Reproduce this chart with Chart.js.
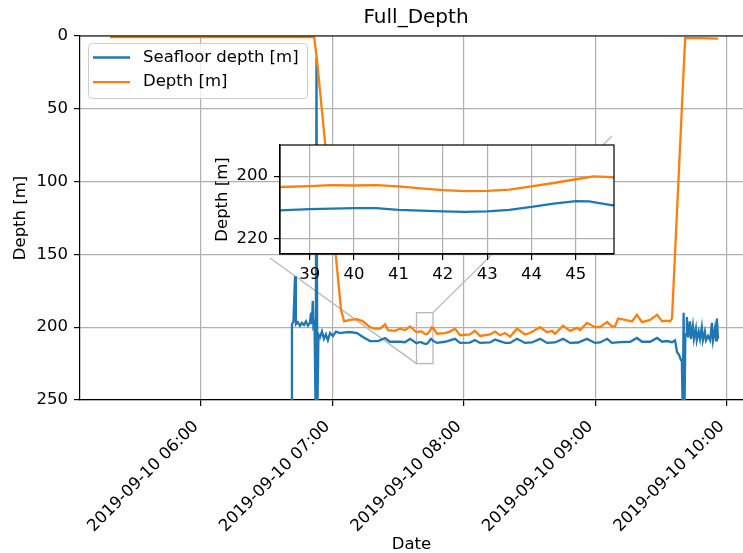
<!DOCTYPE html>
<html>
<head>
<meta charset="utf-8">
<script src="https://cdn.jsdelivr.net/npm/chart.js@4.4.1/dist/chart.umd.min.js"></script>
<style>
  html, body { margin: 0; padding: 0; background: #fff; overflow: hidden; }
  #wrap { position: relative; width: 743px; height: 553px; }
  #fullDepth { position: absolute; left: 0; top: 0; }
  #insetDepth { position: absolute; left: 205px; top: 140px; }
</style>
</head>
<body>
<div id="wrap">
  <canvas id="fullDepth" width="743" height="553"></canvas>
  <canvas id="insetDepth" width="415" height="150"></canvas>
</div>
<script>
// time = minutes after midnight on 2019-09-10
var depthTime = [318.5, 359.5, 401.5, 411.6, 412.9, 416.6, 420.2, 423.9, 425.3, 428.0, 431.2, 433.9, 437.1, 439.4, 441.7, 444.0, 445.3, 448.5, 450.8, 453.1, 455.4,
  458.3, 459.0, 459.5, 460.0, 460.5, 461.0, 461.5, 462.0, 462.5, 463.0, 463.5, 464.0, 464.5, 465.0, 465.4, 465.8,
  467.7, 471.3, 473.6, 475.9, 478.2, 482.7, 485.0, 487.3, 491.9, 494.2, 496.4, 498.7, 501.0, 504.2, 507.8, 510.1, 514.7, 517.9, 520.2, 521.5,
  525.2, 528.4, 531.6, 532.9, 536.1, 539.8, 542.1, 545.3, 547.5, 548.9, 550.3, 553.5, 556.7, 558.9, 561.2, 564.9, 568.1, 570.4, 572.6, 574.0,
  574.9, 580.9, 587.7, 595.9];
var depthValues = [0.8, 0.8, 0.8, 0.5, 16, 73, 130, 188, 196, 195, 194.5, 196, 200, 201, 201, 198, 202, 202.5, 201, 202, 199.5,
  203.5, 203.2, 202.9, 203.0, 202.9, 203.3, 203.9, 204.5, 204.8, 204.7, 204.3, 203.3, 202.2, 201.0, 200.1, 200.3,
  204.5, 204, 203, 201, 205.5, 205, 202.5, 206, 205, 203, 205.5, 204, 206.5, 201, 205, 204, 200, 203.5, 202.5, 204.5,
  199, 202.5, 200.5, 202, 197, 200, 200, 196.5, 199.5, 199.5, 194, 195, 196, 191.5, 196.5, 195, 191.5, 196, 195.5, 196,
  194, 1.5, 1.5, 1.8];

var seafloorTime = [401.3, 401.5, 402.2, 402.9, 403.3, 404.2, 405.2, 406.1, 407.0, 407.9, 408.8, 409.7, 410.2, 410.6, 411.0, 411.3, 411.8,
  412.3, 412.7, 413.1, 413.6, 414.3, 415.2, 416.1, 417.0, 417.9, 418.9, 420.2, 421.6, 423.4, 425.7, 428.0, 431.2, 433.9, 437.1, 440.8,
  444.0, 446.2, 450.8, 453.1, 455.4,
  458.3, 459.0, 460.0, 460.5, 461.0, 462.0, 462.5, 463.0, 463.5, 464.0, 464.5, 465.0, 465.3, 465.8,
  467.7, 471.3, 475.9, 478.2, 482.7, 485.0, 487.3, 491.9, 494.2, 498.7, 501.0, 504.2, 507.8, 511.0, 514.7, 517.9, 521.5, 525.2, 528.4,
  532.1, 536.1, 539.8, 542.1, 545.3, 547.5, 551.2, 555.8, 558.9, 561.2, 564.9, 568.1, 570.4, 572.6, 574.9, 576.3, 577.2, 578.1, 579.0,
  579.4, 579.8, 580.2, 580.6, 581.0, 581.3, 581.7, 582.2, 583.1, 583.5, 584.4, 584.9, 585.8, 586.2, 587.1, 587.7, 588.5, 589.0, 589.9,
  590.4, 591.3, 592.3, 593.1, 593.6, 594.5, 595.0, 595.4, 595.9];
var seafloorValues = [260, 198, 196, 165, 198, 196.5, 199, 197, 198.5, 196, 199, 197, 190, 198, 182, 199, 197,
  260, 15, 260, 205, 207, 203, 208, 205, 209, 204, 206, 203, 204, 203.5, 203.3, 204, 206.7, 209.5, 209.5,
  207.4, 210, 210, 210.3, 208,
  211.0, 210.6, 210.3, 210.3, 210.8, 211.3, 211.5, 211.3, 210.8, 209.9, 208.8, 208.0, 208.1, 209.3,
  210.8, 210, 208, 210.8, 210.6, 208.8, 210.8, 210.5, 208.5, 210.8, 210.8, 208, 210.8, 210.5, 208, 210.8, 210.5, 208, 210.8,
  210.5, 208, 210.8, 210.5, 208, 210.8, 210.3, 210, 207.4, 210, 210, 207.4, 210, 209.5, 210.3, 209, 217, 219, 222.5,
  223, 260, 190, 260, 205, 205, 193, 207, 196, 208, 199, 208, 201, 209, 203, 208, 200, 209, 203,
  209, 206, 209, 197, 209, 201, 209, 194, 208];

var xTickMinutes = [360, 420, 480, 540, 600];
var xTickLabels = ["2019-09-10 06:00", "2019-09-10 07:00", "2019-09-10 08:00", "2019-09-10 09:00", "2019-09-10 10:00"];
var xRange = [304.8, 607.3];
var yTicks = [0, 50, 100, 150, 200, 250];

// zoomed window: 07:38.3 - 07:45.9, 190 - 225 m
var insetTickMinutes = [39, 40, 41, 42, 43, 44, 45];
var insetYTicks = [200, 220];
var zoomMinutes = [458.33, 465.86];
var zoomDepth = [190, 225];

Chart.defaults.font.family = "'DejaVu Sans', sans-serif";
Chart.defaults.font.size = 16.5;
Chart.defaults.color = "#000";

function pts(t, v) {
  return t.map(function (x, i) { return { x: x, y: v[i] }; });
}

function makeDatasets() {
  return [
    { label: "Seafloor depth [m]", data: pts(seafloorTime, seafloorValues), borderColor: "#1f77b4", borderWidth: 2.3, pointRadius: 0, tension: 0, order: 1 },
    { label: "Depth [m]", data: pts(depthTime, depthValues), borderColor: "#ff7f0e", borderWidth: 2.3, pointRadius: 0, tension: 0, order: 0 }
  ];
}

var gridStyle = { color: "#b0b0b0", lineWidth: 1.2, tickColor: "#000", tickLength: 6 };

var mainDecor = {
  id: "mainDecor",
  beforeDatasetsDraw: function (chart) {
    var ctx = chart.ctx, x = chart.scales.x, y = chart.scales.y;
    var l = x.getPixelForValue(zoomMinutes[0]), r = x.getPixelForValue(zoomMinutes[1]);
    var t = y.getPixelForValue(zoomDepth[0]), b = y.getPixelForValue(zoomDepth[1]);
    ctx.save();
    ctx.strokeStyle = "#b8b8b8";
    ctx.lineWidth = 1.3;
    ctx.strokeRect(l, t, r - l, b - t);
    ctx.beginPath();
    ctx.moveTo(r, t); ctx.lineTo(612, 136);
    ctx.moveTo(l, b); ctx.lineTo(270, 258);
    ctx.stroke();
    ctx.restore();
  },
  afterDraw: function (chart) {
    var ctx = chart.ctx, a = chart.chartArea;
    ctx.save();
    // top spine
    ctx.strokeStyle = "#000";
    ctx.lineWidth = 1.2;
    ctx.beginPath();
    ctx.moveTo(a.left, a.top); ctx.lineTo(a.right, a.top);
    ctx.stroke();
    // title
    ctx.fillStyle = "#000";
    ctx.font = "20px 'DejaVu Sans'";
    ctx.textAlign = "center";
    ctx.textBaseline = "middle";
    ctx.fillText("Full_Depth", 416, 18);
    // legend
    ctx.fillStyle = "rgba(255,255,255,0.8)";
    ctx.strokeStyle = "#cccccc";
    ctx.lineWidth = 1;
    ctx.beginPath();
    ctx.roundRect(88.5, 43.5, 219, 55, 4);
    ctx.fill();
    ctx.stroke();
    ctx.font = "16.5px 'DejaVu Sans'";
    ctx.textAlign = "left";
    chart.data.datasets.forEach(function (ds, i) {
      var yy = 57.5 + i * 24.6;
      ctx.strokeStyle = ds.borderColor;
      ctx.lineWidth = 2.3;
      ctx.beginPath();
      ctx.moveTo(93, yy); ctx.lineTo(130, yy);
      ctx.stroke();
      ctx.fillStyle = "#000";
      ctx.fillText(ds.label, 143, yy);
    });
    ctx.restore();
  }
};

new Chart(document.getElementById("fullDepth"), {
  type: "line",
  data: { datasets: makeDatasets() },
  options: {
    responsive: false,
    animation: false,
    devicePixelRatio: 1,
    layout: { padding: { top: 36, left: 0, right: 0, bottom: 0 } },
    plugins: { legend: { display: false }, tooltip: { enabled: false } },
    scales: {
      x: {
        type: "linear",
        min: xRange[0],
        max: xRange[1],
        afterBuildTicks: function (s) { s.ticks = xTickMinutes.map(function (v) { return { value: v }; }); },
        afterFit: function (s) { s.height = 153; s.paddingLeft = 0; s.paddingRight = 0; },
        ticks: {
          autoSkip: false, minRotation: 45, maxRotation: 45, padding: 11, labelOffset: -5,
          callback: function (v, i) { return xTickLabels[i]; }
        },
        grid: gridStyle,
        border: { color: "#000", width: 1.2 },
        title: { display: true, text: "Date", font: { size: 16.5, lineHeight: 1 }, padding: { top: 0, bottom: 0 } }
      },
      y: {
        reverse: true,
        min: 0,
        max: 250,
        afterBuildTicks: function (s) { s.ticks = yTicks.map(function (v) { return { value: v }; }); },
        afterFit: function (s) { s.width = 80; s.paddingTop = 0; s.paddingBottom = 0; },
        ticks: { padding: 6 },
        grid: gridStyle,
        border: { color: "#000", width: 1.2 },
        title: { display: true, text: "Depth [m]", font: { size: 16.5, lineHeight: 1 }, padding: { top: 12, bottom: 0 } }
      }
    }
  },
  plugins: [mainDecor]
});

var insetFrame = {
  id: "insetFrame",
  beforeDraw: function (chart) {
    var a = chart.chartArea;
    chart.ctx.save();
    chart.ctx.fillStyle = "#fff";
    chart.ctx.fillRect(a.left, a.top, a.right - a.left, a.bottom - a.top);
    chart.ctx.restore();
  },
  afterDraw: function (chart) {
    var a = chart.chartArea;
    chart.ctx.save();
    chart.ctx.strokeStyle = "#000";
    chart.ctx.lineWidth = 1.2;
    chart.ctx.strokeRect(a.left, a.top, a.right - a.left, a.bottom - a.top);
    chart.ctx.restore();
  }
};

new Chart(document.getElementById("insetDepth"), {
  type: "line",
  data: { datasets: makeDatasets() },
  options: {
    responsive: false,
    animation: false,
    devicePixelRatio: 1,
    layout: { padding: { top: 5, left: 0, right: 6, bottom: 0 } },
    plugins: { legend: { display: false }, tooltip: { enabled: false } },
    scales: {
      x: {
        type: "linear",
        min: zoomMinutes[0],
        max: zoomMinutes[1],
        afterBuildTicks: function (s) { s.ticks = insetTickMinutes.map(function (m) { return { value: 420 + m }; }); },
        afterFit: function (s) { s.height = 36; s.paddingLeft = 0; s.paddingRight = 0; },
        ticks: { autoSkip: false, maxRotation: 0, padding: 5, callback: function (v, i) { return String(insetTickMinutes[i]); } },
        grid: gridStyle,
        border: { color: "#000", width: 1.2 }
      },
      y: {
        reverse: true,
        min: zoomDepth[0],
        max: zoomDepth[1],
        afterBuildTicks: function (s) { s.ticks = insetYTicks.map(function (v) { return { value: v }; }); },
        afterFit: function (s) { s.width = 75; s.paddingTop = 0; s.paddingBottom = 0; },
        ticks: { padding: 6 },
        grid: gridStyle,
        border: { color: "#000", width: 1.2 },
        title: { display: true, text: "Depth [m]", font: { size: 16.5, lineHeight: 1 }, padding: { top: 9, bottom: 0 } }
      }
    }
  },
  plugins: [insetFrame]
});
</script>
</body>
</html>
